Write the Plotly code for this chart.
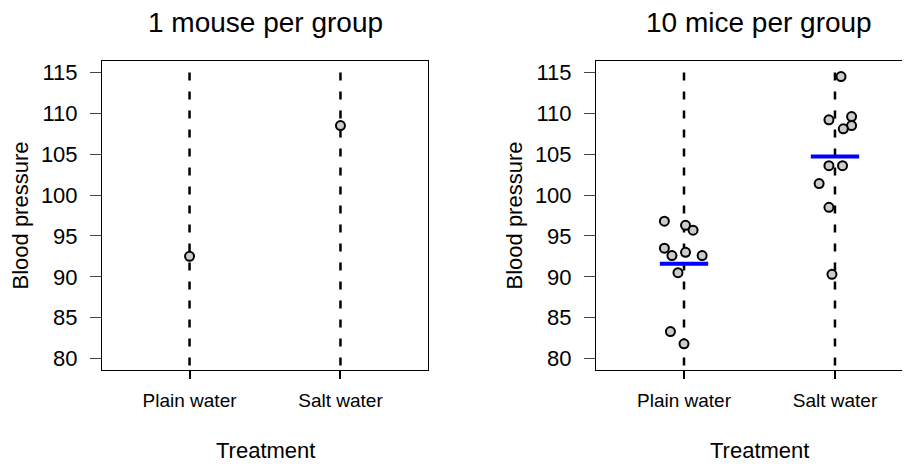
import numpy as np
import plotly.graph_objects as go

# ---- data ----
groups = ["Plain water", "Salt water"]
group_pos = [1, 2]
one_mouse_bp = [92.5, 108.5]
plain_bp = [96.8, 96.3, 95.7, 93.5, 92.6, 93.0, 92.6, 90.5, 83.3, 81.8]
plain_jit = [-0.13, 0.01, 0.06, -0.13, -0.08, 0.01, 0.12, -0.04, -0.09, 0.0]
salt_bp = [114.5, 109.2, 109.6, 108.5, 108.1, 103.6, 103.6, 101.4, 98.5, 90.3]
salt_jit = [0.04, -0.04, 0.11, 0.11, 0.055, -0.04, 0.05, -0.105, -0.04, -0.02]
y_ticks = [80, 85, 90, 95, 100, 105, 110, 115]
titles = ["1 mouse per group", "10 mice per group"]

# ---- layout geometry (page body has an 8px margin) ----
OFF = 8
W, H = 910 - OFF, 464 - OFF
L = 102 - OFF
T = 61 - OFF
R = 0
B = H - (370 - OFF)
PW = W - L - R
PH = H - T - B
FONT = "Liberation Sans, Arial, Helvetica, sans-serif"

def px_x(p):
    return (p - OFF - L) / PW

def px_y(p):
    return (H - B - (p - OFF)) / PH

fig = go.Figure()

marker = dict(size=9, color="#cccccc", line=dict(color="black", width=2))
dash_line = dict(color="black", width=2.5, dash="8px,11px")

for xa, ya in [("x", "y"), ("x2", "y2")]:
    for g in group_pos:
        fig.add_trace(go.Scatter(x=[g, g], y=[y_ticks[-1], 78.0], mode="lines",
                                 line=dash_line, xaxis=xa, yaxis=ya,
                                 showlegend=False, hoverinfo="skip"))

# left panel: one mouse per group
fig.add_trace(go.Scatter(x=group_pos, y=one_mouse_bp, mode="markers", marker=marker,
                         xaxis="x", yaxis="y", showlegend=False))

# right panel: ten mice per group
fig.add_trace(go.Scatter(x=[group_pos[0] + j for j in plain_jit], y=plain_bp,
                         mode="markers", marker=marker, xaxis="x2", yaxis="y2",
                         showlegend=False))
fig.add_trace(go.Scatter(x=[group_pos[1] + j for j in salt_jit], y=salt_bp,
                         mode="markers", marker=marker, xaxis="x2", yaxis="y2",
                         showlegend=False))

for g, vals in zip(group_pos, [plain_bp, salt_bp]):
    m = float(np.mean(vals))
    fig.add_trace(go.Scatter(x=[g - 0.16, g + 0.16], y=[m, m], mode="lines",
                             line=dict(color="#0000ff", width=4),
                             xaxis="x2", yaxis="y2", showlegend=False))

common_x = dict(tickvals=group_pos, ticktext=groups, showline=True, linecolor="black",
                linewidth=1, mirror=True, ticks="outside", ticklen=8, tickwidth=1.5,
                tickcolor="black", showgrid=False, zeroline=False,
                tickfont=dict(family=FONT, size=19, color="black"),
                ticklabelstandoff=5, fixedrange=True)
common_y = dict(range=[78.6, 116.4], tickvals=y_ticks, showline=True, linecolor="black",
                linewidth=1, ticks="outside", ticklen=11, tickwidth=1,
                tickcolor="#444444", showgrid=False, zeroline=False,
                tickfont=dict(family=FONT, size=22, color="black"),
                ticklabelstandoff=8, fixedrange=True)

fig.update_layout(
    width=W, height=H,
    margin=dict(l=L, r=R, t=T, b=B, autoexpand=False),
    paper_bgcolor="white", plot_bgcolor="white",
    xaxis=dict(common_x, domain=[0, px_x(428)], range=[0.42, 2.58]),
    yaxis=dict(common_y, mirror=True),
    xaxis2=dict(common_x, domain=[px_x(596), 1], range=[0.417, 2.497], anchor="y2"),
    yaxis2=dict(common_y, mirror=False, anchor="x2"),
)

annos = []
for cx, ttl in zip([265, 759], titles):
    annos.append(dict(text=ttl, x=px_x(cx), y=px_y(23), xref="paper", yref="paper",
                      xanchor="center", yanchor="middle", showarrow=False,
                      font=dict(family=FONT, size=28, color="black")))
    annos.append(dict(text="Treatment", x=px_x(cx), y=px_y(451), xref="paper", yref="paper",
                      xanchor="center", yanchor="middle", showarrow=False,
                      font=dict(family=FONT, size=22, color="black")))
for cx in [20, 514]:
    annos.append(dict(text="Blood pressure", x=px_x(cx), y=0.5, xref="paper", yref="paper",
                      xanchor="center", yanchor="middle", showarrow=False, textangle=-90,
                      font=dict(family=FONT, size=22, color="black")))
fig.update_layout(annotations=annos)

fig.write_html("out.html")
